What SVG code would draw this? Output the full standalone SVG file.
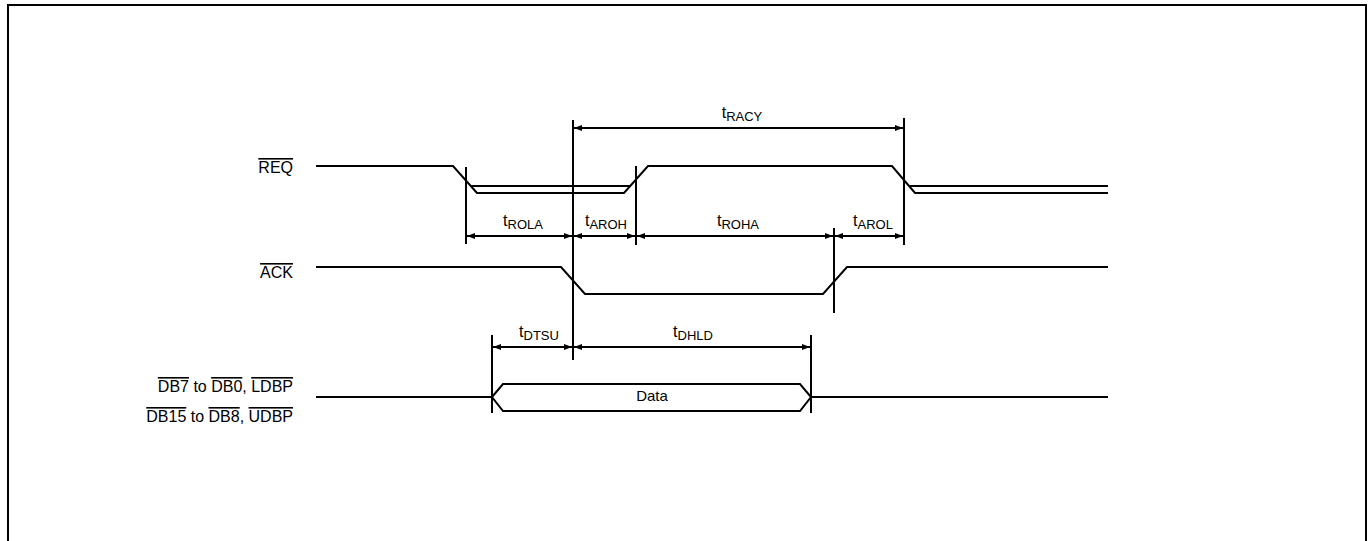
<svg xmlns="http://www.w3.org/2000/svg" width="1371" height="541" viewBox="0 0 1371 541">
<style>
.sig{fill:none;stroke:#000;stroke-width:2;stroke-linejoin:miter}
.vl{fill:none;stroke:#000;stroke-width:2}
.dim{fill:none;stroke:#000;stroke-width:2;marker-start:url(#ah);marker-end:url(#ah)}
text{font-family:"Liberation Sans",Arial,sans-serif;fill:#000}
.lbl{font-size:16px;text-anchor:end}
.tl{font-size:16px;text-anchor:middle}
.ov{text-decoration:overline}
</style>
<defs>
<marker id="ah" viewBox="0 0 8 6" refX="8" refY="3" markerWidth="8" markerHeight="6" markerUnits="userSpaceOnUse" orient="auto-start-reverse">
<path d="M0,0 L8,3 L0,6 Z" fill="#000"/>
</marker>
</defs>
<rect width="1371" height="541" fill="#fff"/>
<path d="M8,541 L8,5 L1366,5 L1366,541" fill="none" stroke="#000" stroke-width="2"/>

<g id="labels">
<text class="lbl" x="293" y="173"><tspan class="ov">REQ</tspan></text>
<text class="lbl" x="293" y="278"><tspan class="ov">ACK</tspan></text>
<text class="lbl" x="293" y="392"><tspan class="ov">DB7</tspan> to <tspan class="ov">DB0</tspan>, <tspan class="ov">LDBP</tspan></text>
<text class="lbl" x="293" y="422"><tspan class="ov">DB15</tspan> to <tspan class="ov">DB8</tspan>, <tspan class="ov">UDBP</tspan></text>
</g>

<g id="req">
<path class="sig" d="M316,166 L453,166 L477,193 L624,193 L648,166 L892,166 L915,193 L1108,193"/>
<path class="sig" d="M470,186 L631,186"/>
<path class="sig" d="M909,186 L1108,186"/>
</g>

<g id="ack">
<path class="sig" d="M316,267 L561,267 L585,294 L823,294 L847,267 L1108,267"/>
</g>

<g id="data">
<path class="sig" d="M316,397 L492,397"/>
<path class="sig" d="M492,397 L503,384 L800,384 L811,397 L800,411 L503,411 Z"/>
<path class="sig" d="M811,397 L1108,397"/>
<text x="652" y="401" font-size="15" text-anchor="middle">Data</text>
</g>

<g id="connectors">
<path class="vl" d="M466,167 V244"/>
<path class="vl" d="M573,120 V360"/>
<path class="vl" d="M636,166 V245"/>
<path class="vl" d="M834,228 V313"/>
<path class="vl" d="M904,118 V245"/>
<path class="vl" d="M492,335 V413"/>
<path class="vl" d="M811,335 V413"/>

<path class="dim" d="M574,128 H903"/>
<path class="dim" d="M467,236 H572"/>
<path class="dim" d="M574,236 H635"/>
<path class="dim" d="M637,236 H833"/>
<path class="dim" d="M835,236 H903"/>
<path class="dim" d="M493,347 H572"/>
<path class="dim" d="M574,347 H810"/>
</g>

<g id="timing-labels">
<text class="tl" x="742" y="118">t<tspan font-size="13" dy="3">RACY</tspan></text>
<text class="tl" x="523" y="226">t<tspan font-size="13" dy="3">ROLA</tspan></text>
<text class="tl" x="606" y="226">t<tspan font-size="13" dy="3">AROH</tspan></text>
<text class="tl" x="738" y="226">t<tspan font-size="13" dy="3">ROHA</tspan></text>
<text class="tl" x="873" y="226">t<tspan font-size="13" dy="3">AROL</tspan></text>
<text class="tl" x="539" y="337">t<tspan font-size="13" dy="3">DTSU</tspan></text>
<text class="tl" x="693" y="337">t<tspan font-size="13" dy="3">DHLD</tspan></text>
</g>
</svg>
